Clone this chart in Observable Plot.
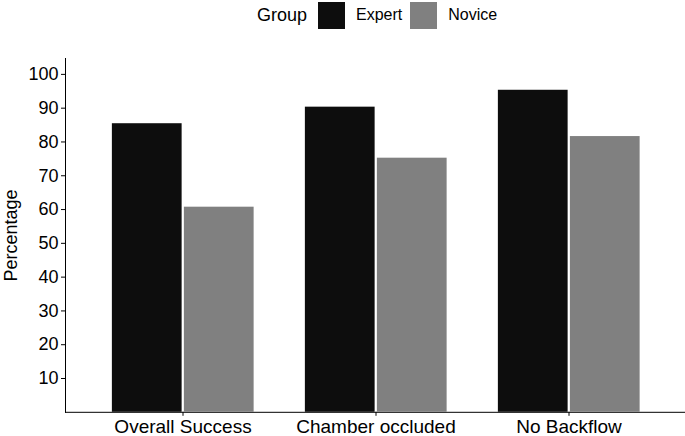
<!DOCTYPE html>
<html><head><meta charset="utf-8">
<script src="https://cdn.jsdelivr.net/npm/d3@7"></script>
<script src="https://cdn.jsdelivr.net/npm/@observablehq/plot@0.6"></script>
<style>
body{margin:0;background:#fff;font-family:"Liberation Sans",Arial,sans-serif;color:#000}
#legend{height:30px;display:flex;align-items:center;padding-left:257px;box-sizing:border-box}
#legend .title{font-size:18px;margin-right:11px}
#legend .sw{width:27px;height:27px;margin-right:11px}
#legend .lab{font-size:16px;margin-right:8px}
#chart svg g[aria-label="x-axis tick label"]{font-size:19px}
</style></head>
<body>
<div id="legend"></div>
<div id="chart"></div>
<script>
const categories = ["Overall Success", "Chamber occluded", "No Backflow"];
const groups = ["Expert", "Novice"];
const expertValues = [85.4, 90.3, 95.3];
const noviceValues = [60.7, 75.2, 81.6];
const yTicks = [10, 20, 30, 40, 50, 60, 70, 80, 90, 100];
const groupColors = ["#0d0d0d", "#808080"];
const yLabel = "Percentage";
const legendTitle = "Group";

const rows = [];
categories.forEach((c, i) => {
  rows.push({category: c, group: groups[0], value: expertValues[i]});
  rows.push({category: c, group: groups[1], value: noviceValues[i]});
});

// legend
const leg = document.getElementById("legend");
const t = document.createElement("span"); t.className = "title"; t.textContent = legendTitle; leg.appendChild(t);
groups.forEach((g, i) => {
  const s = document.createElement("span"); s.className = "sw"; s.style.background = groupColors[i]; leg.appendChild(s);
  const l = document.createElement("span"); l.className = "lab"; l.textContent = g; leg.appendChild(l);
});

const W = 685, H = 406, ML = 65, MR = 0;
const step = (W - ML - MR) / 3.2;
const half = step / 2;
const barW = 71;

const chart = Plot.plot({
  width: W, height: H,
  marginLeft: ML, marginRight: MR, marginTop: 28, marginBottom: 24.2,
  style: {fontFamily: "'Liberation Sans', Arial, sans-serif", fontSize: "18px", color: "#000", background: "#fff"},
  x: {domain: categories, paddingInner: 0, paddingOuter: 0.1, tickSize: 4, tickPadding: 3, line: true, label: null},
  y: {domain: [0, 104.7], ticks: yTicks, tickSize: 4, tickPadding: 3, line: true, label: yLabel, labelAnchor: "center", labelOffset: 61, labelArrow: "none"},
  color: {domain: groups, range: groupColors},
  marks: [
    Plot.barY(rows.filter(d => d.group === groups[0]), {x: "category", y: "value", fill: "group", insetLeft: half - barW, insetRight: half + 0.5}),
    Plot.barY(rows.filter(d => d.group === groups[1]), {x: "category", y: "value", fill: "group", insetLeft: half + 1, insetRight: half - barW - 0.5})
  ]
});
document.getElementById("chart").appendChild(chart);
</script>
</body></html>
